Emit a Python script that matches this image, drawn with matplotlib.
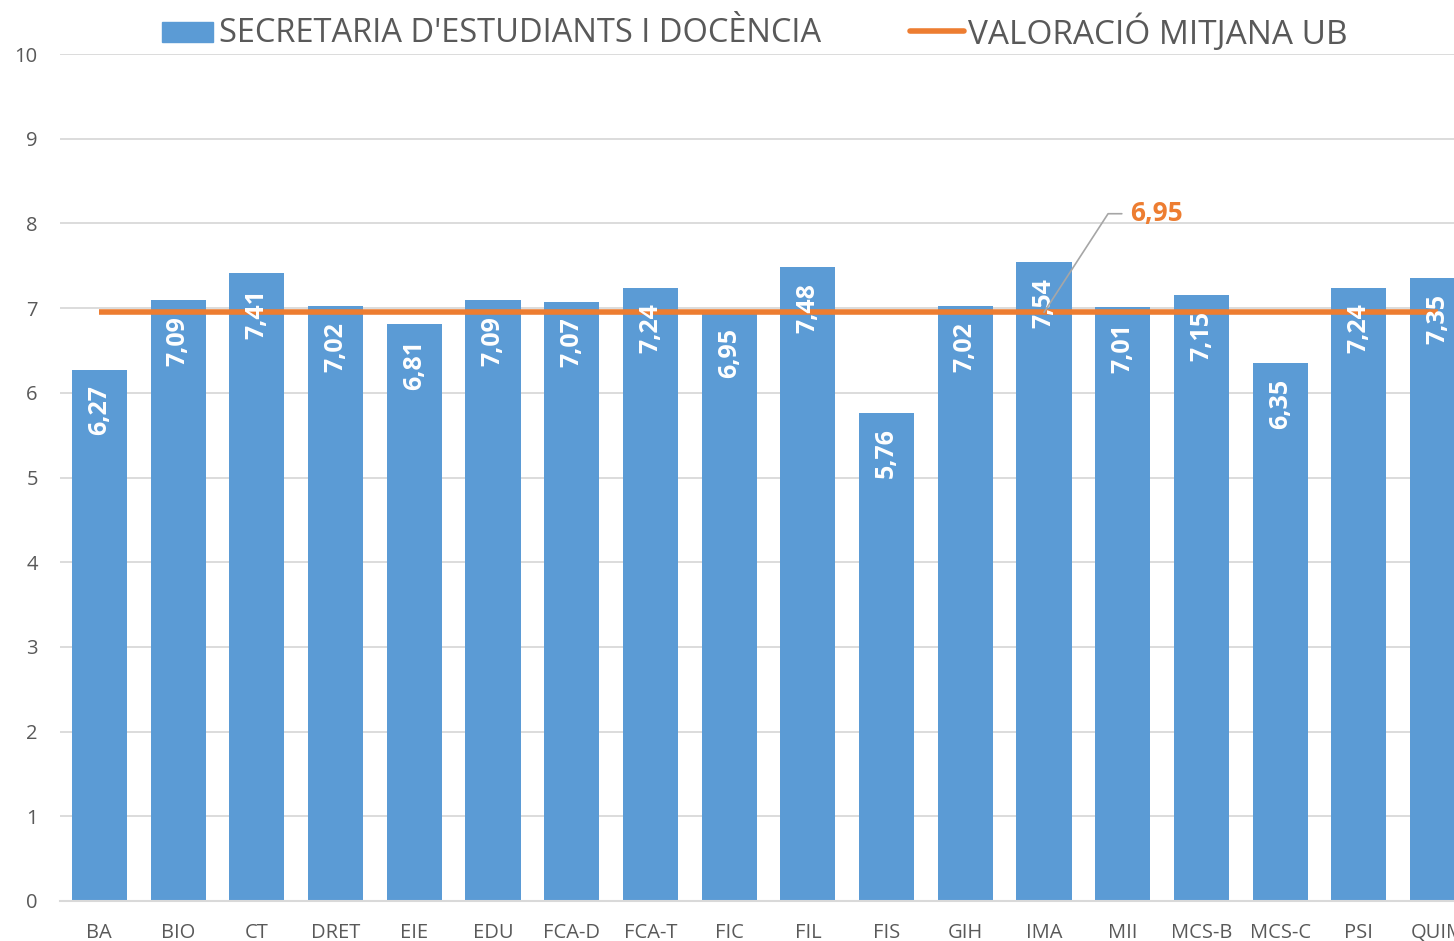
import matplotlib.pyplot as plt
from matplotlib.patches import Rectangle
from matplotlib.lines import Line2D
import numpy as np

plt.rcParams["font.family"] = ["Open Sans", "DejaVu Sans"]

# data
categories = ["BA", "BIO", "CT", "DRET", "EIE", "EDU", "FCA-D", "FCA-T", "FIC",
              "FIL", "FIS", "GIH", "IMA", "MII", "MCS-B", "MCS-C", "PSI", "QUIM"]
secretaria = [6.27, 7.09, 7.41, 7.02, 6.81, 7.09, 7.07, 7.24, 6.95,
              7.48, 5.76, 7.02, 7.54, 7.01, 7.15, 6.35, 7.24, 7.35]
mitjana_ub = 6.95
label_serie = "SECRETARIA D'ESTUDIANTS I DOCÈNCIA"
label_mitjana = "VALORACIÓ MITJANA UB"

BLUE = "#5B9BD5"
ORANGE = "#ED7D31"
GREY_TXT = "#595959"
GRID = "#D9D9D9"

W, H = 1454, 941
fig = plt.figure(figsize=(W / 100, H / 100), dpi=100)
# axes runs a bit past the right edge, like the cropped original
ax = fig.add_axes([60 / W, (H - 901) / H, 1417 / W, 847 / H])

x = np.arange(len(categories))
bars = ax.bar(x, secretaria, width=0.7, color=BLUE, zorder=2)
ax.plot(x, [mitjana_ub] * len(x), color=ORANGE, lw=4, zorder=3,
        solid_capstyle="butt")

for xi, v in zip(x, secretaria):
    ax.annotate(f"{v:.2f}".replace(".", ","), (xi, v), xytext=(0, -11),
                textcoords="offset points", rotation=90, ha="center", va="top",
                color="white", fontsize=18, fontweight="bold", zorder=4)

# label of the average line
ax.annotate(f"{mitjana_ub:.2f}".replace(".", ","), (12, mitjana_ub),
            xytext=(62, 71), textcoords="offset points", ha="left", va="center",
            color=ORANGE, fontsize=19, fontweight="bold", zorder=5,
            arrowprops=dict(arrowstyle="-", color="#A6A6A6", lw=1.2,
                            shrinkA=4, shrinkB=0,
                            connectionstyle="angle,angleA=0,angleB=57,rad=0",
                            relpos=(0, 0.5)))

ax.set_xlim(-0.5, len(categories) - 0.5)
ax.set_ylim(0, 10)
ax.set_yticks(range(0, 11))
ax.set_xticks(x)
ax.set_xticklabels(categories)
ax.grid(axis="y", color=GRID, lw=1.3, zorder=0)
ax.set_axisbelow(True)
for s in ["top", "right", "left"]:
    ax.spines[s].set_visible(False)
ax.spines["bottom"].set_color(GRID)
ax.spines["bottom"].set_linewidth(1.5)
ax.tick_params(axis="both", length=0, colors=GREY_TXT, labelsize=14.5)
ax.tick_params(axis="y", pad=16)
ax.tick_params(axis="x", pad=16)

# legend drawn by hand to match the placement
fig.add_artist(Rectangle((162 / W, (H - 42) / H), 51 / W, 20 / H,
                         transform=fig.transFigure, color=BLUE))
fig.text(219 / W, (H - 33) / H, label_serie, ha="left", va="center",
         color=GREY_TXT, fontsize=23.5)
fig.add_artist(Line2D([910 / W, 964 / W], [(H - 31) / H] * 2,
                      transform=fig.transFigure, color=ORANGE, lw=4,
                      solid_capstyle="round"))
fig.text(968 / W, (H - 33) / H, label_mitjana, ha="left", va="center",
         color=GREY_TXT, fontsize=24)

fig.savefig("out.png", dpi=100)
